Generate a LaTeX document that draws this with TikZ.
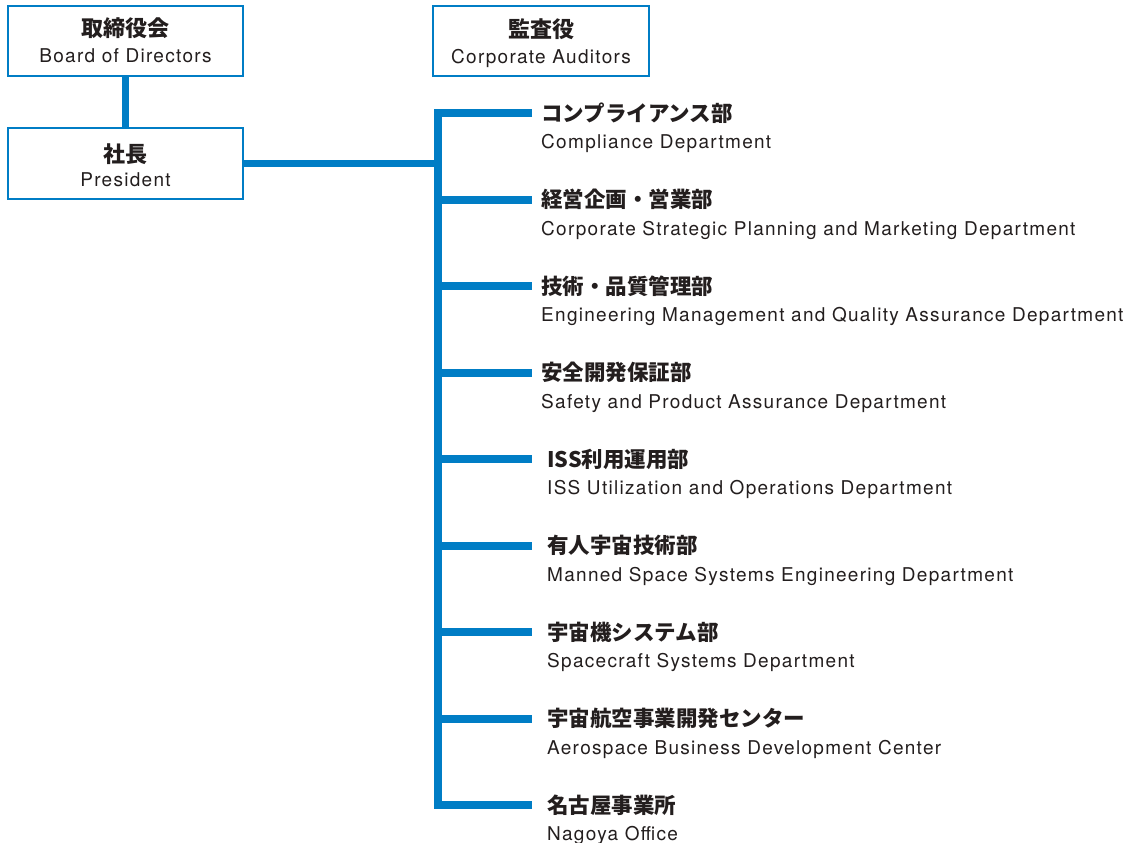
\documentclass[tikz,border=0pt]{standalone}
\usepackage{fontspec}
\setmainfont{TeX Gyre Heros}
\newfontfamily\enfont{TeX Gyre Heros}[LetterSpace=6.8]
\newfontfamily\jpfont{Noto Sans CJK JP}
\definecolor{orgblue}{RGB}{0,125,197}
\definecolor{ink}{RGB}{35,30,30}
\tikzset{
  orgbox/.style={draw=orgblue, line width=2pt, fill=white, inner sep=0pt, minimum width=235pt, minimum height=70pt},
  conn/.style={draw=orgblue, line width=8pt, line join=miter, line cap=butt},
  jplab/.style={font=\jpfont\bfseries\fontsize{21.5}{24}\selectfont, text=ink, inner sep=0pt, anchor=base west},
  enlab/.style={font=\enfont\fontsize{19}{22}\selectfont, text=ink, inner sep=0pt, anchor=base west},
  jpbox/.style={font=\jpfont\bfseries\fontsize{22}{24}\selectfont, text=ink, inner sep=0pt, anchor=base},
  enbox/.style={font=\enfont\fontsize{19}{22}\selectfont, text=ink, inner sep=0pt, anchor=base},
}
\begin{document}
\begin{tikzpicture}[x=1pt,y=-1pt]
\useasboundingbox (0,0) rectangle (1128,843);
% trunk coordinates
\foreach \k in {1,...,9}{
  \coordinate (t\k) at (437.5,{113+86.5*(\k-1)});
  \coordinate (e\k) at (532,{113+86.5*(\k-1)});
}
\coordinate (tp) at (437.5,163.5);
% connectors
\draw[conn] (e1) -- (t1) -- (t9) -- (e9);
\foreach \k in {2,...,8}{ \draw[conn] (t\k) -- (e\k); }
% boxes
\node[orgbox] (board) at (125.5,41) {};
\node[orgbox, minimum width=216pt] (audit) at (541,41) {};
\node[orgbox, minimum height=71pt] (pres) at (125.5,163.5) {};
\draw[conn, line width=7pt] (board.south) -- (pres.north);
\draw[conn, line width=7pt] (pres.east) -- (tp);
% box texts
\node[jpbox] (boardjp) at (125.5,36.4) {取締役会};
\node[enbox] (boarden) at (125.5,62.8) {Board of Directors};
\node[jpbox] (auditjp) at (541,37.4) {監査役};
\node[enbox] (auditen) at (541,63.8) {Corporate Auditors};
\node[jpbox] (presjp) at (125.5,162.4) {社長};
\node[enbox] (presen) at (125.5,186.8) {President};
% departments
\foreach \k/\xx/\jp/\en in {
  1/541/コンプライアンス部/Compliance Department,
  2/541/経営企画・営業部/Corporate Strategic Planning and Marketing Department,
  3/541/技術・品質管理部/Engineering Management and Quality Assurance Department,
  4/541/安全開発保証部/Safety and Product Assurance Department,
  5/547/ISS利用運用部/ISS Utilization and Operations Department,
  6/547/有人宇宙技術部/Manned Space Systems Engineering Department,
  7/547/宇宙機システム部/Spacecraft Systems Department,
  8/547/宇宙航空事業開発センター/Aerospace Business Development Center,
  9/547/名古屋事業所/Nagoya Office}{
  \node[jplab] (d\k jp) at (\xx,{113+86.5*(\k-1)+8.2}) {\jp};
  \node[enlab] (d\k en) at (\xx,{113+86.5*(\k-1)+35.9}) {\en};
}
\end{tikzpicture}
\end{document}
